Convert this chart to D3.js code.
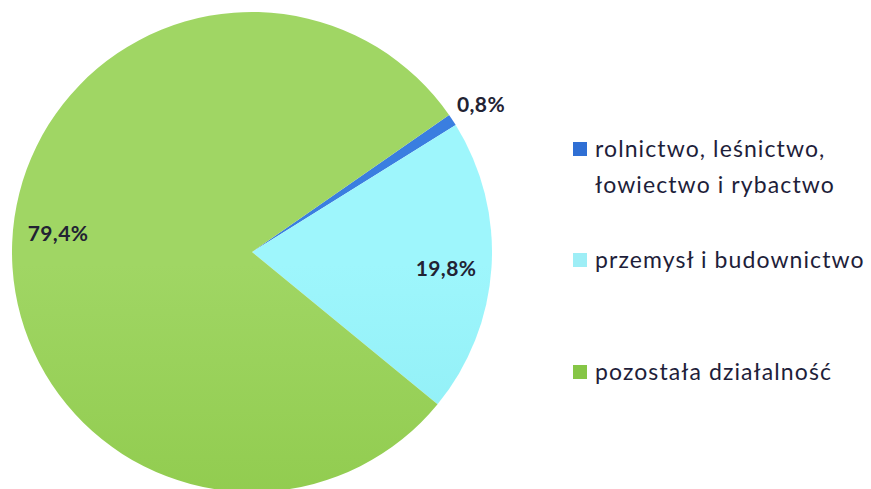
<!DOCTYPE html>
<html><head><meta charset="utf-8">
<script src="https://cdn.jsdelivr.net/npm/d3@7"></script>
<style>body{margin:0;background:#fff}svg{display:block}</style>
</head><body>
<svg id="c" width="871" height="489"></svg>
<script>
const categories = ["rolnictwo, leśnictwo, łowiectwo i rybactwo", "przemysł i budownictwo", "pozostała działalność"];
const legendLines = [["rolnictwo, leśnictwo,", "łowiectwo i rybactwo"], ["przemysł i budownictwo"], ["pozostała działalność"]];
const values = [0.8, 19.8, 79.4];
const valueLabels = ["0,8%", "19,8%", "79,4%"];
const colorsTop = ["#3a7ee0", "#9ef6fc", "#a0d664"];
const colorsBottom = ["#2a66c8", "#7be4ec", "#82c23a"];
const legendColors = ["#2f6fd4", "#9eeef6", "#86c646"];

const svg = d3.select("#c");
const cx = 252, cy = 252, r = 240;
const defs = svg.append("defs");
categories.forEach((c, i) => {
  const g = defs.append("linearGradient").attr("id", "g" + i)
    .attr("gradientUnits", "userSpaceOnUse")
    .attr("x1", 0).attr("y1", cy - r).attr("x2", 0).attr("y2", cy + r);
  g.append("stop").attr("offset", "0").attr("stop-color", colorsTop[i]);
  g.append("stop").attr("offset", "1").attr("stop-color", colorsBottom[i]);
});
const start = 55.2 * Math.PI / 180;
const pie = d3.pie().sort(null).startAngle(start).endAngle(start + 2 * Math.PI);
const arcs = pie(values);
const arc = d3.arc().innerRadius(0).outerRadius(r);
const g = svg.append("g").attr("transform", `translate(${cx},${cy})`);
g.selectAll("path").data(arcs).join("path")
  .attr("d", arc)
  .attr("fill", (d, i) => `url(#g${i})`);

// labels
const labelPos = [[481, 103], [446, 267], [58, 232]];
svg.selectAll("text.lbl").data(arcs).join("text")
  .attr("class", "lbl")
  .attr("x", (d, i) => labelPos[i][0])
  .attr("y", (d, i) => labelPos[i][1])
  .attr("text-anchor", "middle")
  .attr("dominant-baseline", "central")
  .attr("font-family", "Lato, 'Open Sans', sans-serif")
  .attr("font-weight", "bold")
  .attr("font-size", 21)
  .attr("letter-spacing", 0.4)
  .attr("fill", "#222233")
  .text((d, i) => valueLabels[i]);

// legend
const legendY = [157, 268, 380];
const lg = svg.append("g");
categories.forEach((c, i) => {
  lg.append("rect").attr("x", 573).attr("y", legendY[i] - 15).attr("width", 14).attr("height", 14)
    .attr("fill", legendColors[i]);
  legendLines[i].forEach((t, j) => {
    lg.append("text").attr("x", 595).attr("y", legendY[i] + j * 36)
      .attr("font-family", "Lato, 'Open Sans', sans-serif")
      .attr("font-size", 23)
      .attr("letter-spacing", 1.1)
      .attr("fill", "#1e1e3a")
      .text(t);
  });
});
</script>
</body></html>
